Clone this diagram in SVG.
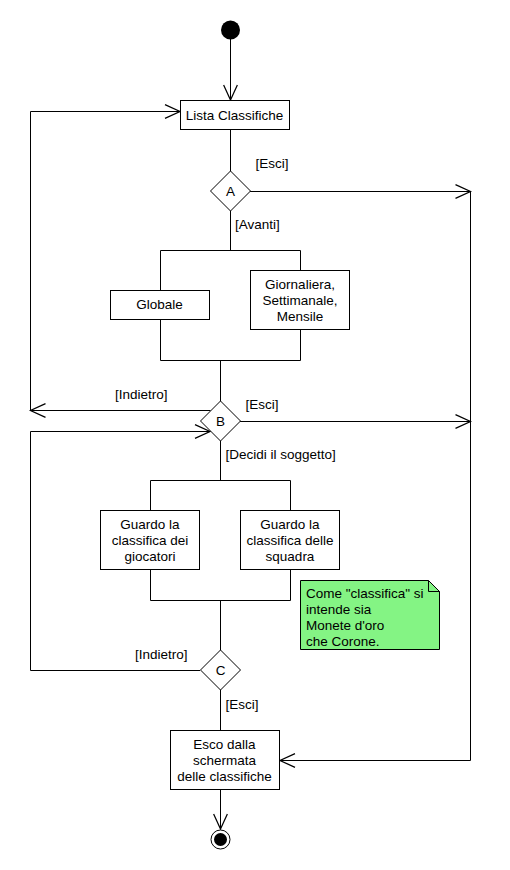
<svg xmlns="http://www.w3.org/2000/svg" width="510" height="870" viewBox="0 0 510 870">
<defs>
<marker id="arr" markerUnits="userSpaceOnUse" markerWidth="20" markerHeight="20" refX="0" refY="0" viewBox="-14 -8 16 16" orient="auto" overflow="visible">
<path d="M-12,-5.5 L0,0 L-12,5.5" fill="none" stroke="#000" stroke-width="1"/>
</marker>
</defs>
<style>
text{font-family:"Liberation Sans",Arial,sans-serif;font-size:13.5px;fill:#000}
.c{text-anchor:middle}
.box{fill:#fff;stroke:#000;stroke-width:1}
.ln{fill:none;stroke:#000;stroke-width:1}
.ar{fill:none;stroke:#000;stroke-width:1;marker-end:url(#arr)}
</style>
<rect width="510" height="870" fill="#fff"/>
<g id="connectors">
<line class="ar" x1="230.5" y1="39" x2="230.5" y2="100"/>
<line class="ln" x1="230.5" y1="129" x2="230.5" y2="171"/>
<line class="ln" x1="230.5" y1="211" x2="230.5" y2="250.5"/>
<polyline class="ln" points="160.5,290 160.5,250.5 300.5,250.5 300.5,270"/>
<polyline class="ln" points="160.5,319 160.5,360.5 300.5,360.5 300.5,329"/>
<line class="ln" x1="220.5" y1="360.5" x2="220.5" y2="401"/>
<line class="ar" x1="210.5" y1="410.5" x2="30.5" y2="410.5"/>
<polyline class="ar" points="30.5,410.5 30.5,111.5 180,111.5"/>
<line class="ar" x1="250" y1="191.5" x2="470.5" y2="191.5"/>
<polyline class="ar" points="470.5,191.5 470.5,760.5 280,760.5"/>
<line class="ar" x1="240" y1="421.5" x2="470.5" y2="421.5"/>
<line class="ln" x1="220.5" y1="441" x2="220.5" y2="480.5"/>
<polyline class="ln" points="150.5,510 150.5,480.5 290.5,480.5 290.5,510"/>
<polyline class="ln" points="150.5,569 150.5,600.5 290.5,600.5 290.5,569"/>
<line class="ln" x1="220.5" y1="600.5" x2="220.5" y2="650"/>
<polyline class="ar" points="200,670.5 30.5,670.5 30.5,431.5 210,431.5"/>
<line class="ln" x1="220.5" y1="690" x2="220.5" y2="730"/>
<line class="ar" x1="220.5" y1="789" x2="220.5" y2="829"/>
<text x="255.5" y="168">[Esci]</text>
<text x="235" y="229">[Avanti]</text>
<text x="115" y="398.5">[Indietro]</text>
<text x="245.5" y="408.5">[Esci]</text>
<text x="225.5" y="458.5">[Decidi il soggetto]</text>
<text x="135" y="658.5">[Indietro]</text>
<text x="225.5" y="708.5">[Esci]</text>
</g>
<g id="start"><circle cx="230.5" cy="30" r="9.5" fill="#000"/></g>
<g id="lista"><rect class="box" x="180.5" y="100.5" width="109" height="29"/><text class="c" x="234.5" y="119.5">Lista Classifiche</text></g>
<g id="A"><polygon class="box" points="230.5,171 250.5,191 230.5,211 210.5,191"/><text class="c" x="230.5" y="196">A</text></g>
<g id="globale"><rect class="box" x="110.5" y="290.5" width="99" height="29"/><text class="c" x="159.5" y="308.5">Globale</text></g>
<g id="giornaliera"><rect class="box" x="250.5" y="270.5" width="99" height="59"/><text class="c" x="300" y="288.5">Giornaliera,</text><text class="c" x="300" y="304.5">Settimanale,</text><text class="c" x="300" y="320.5">Mensile</text></g>
<g id="B"><polygon class="box" points="220.5,401 240.5,421 220.5,441 200.5,421"/><text class="c" x="220.5" y="426">B</text></g>
<g id="giocatori"><rect class="box" x="100.5" y="510.5" width="99" height="59"/><text class="c" x="150" y="528.5">Guardo la</text><text class="c" x="150" y="544.5">classifica dei</text><text class="c" x="150" y="560.5">giocatori</text></g>
<g id="squadra"><rect class="box" x="240.5" y="510.5" width="99" height="59"/><text class="c" x="290" y="528.5">Guardo la</text><text class="c" x="290" y="544.5">classifica delle</text><text class="c" x="290" y="560.5">squadra</text></g>
<g id="note"><path d="M300.5,580.5 L428.5,580.5 L439.5,591.5 L439.5,649.5 L300.5,649.5 Z" fill="#84f484" stroke="#000" stroke-width="1"/><path d="M428.5,580.5 L428.5,591.5 L439.5,591.5" fill="none" stroke="#000" stroke-width="1"/><text x="306" y="598">Come "classifica" si</text><text x="306" y="614">intende sia</text><text x="306" y="630">Monete d'oro</text><text x="306" y="646">che Corone.</text></g>
<g id="C"><polygon class="box" points="220.5,650 240.5,670 220.5,690 200.5,670"/><text class="c" x="220.5" y="675">C</text></g>
<g id="esco"><rect class="box" x="170.5" y="730.5" width="109" height="59"/><text class="c" x="224.5" y="748.5">Esco dalla</text><text class="c" x="224.5" y="764.5">schermata</text><text class="c" x="224.5" y="780.5">delle classifiche</text></g>
<g id="end"><circle cx="220.5" cy="839.5" r="9.5" fill="#fff" stroke="#000" stroke-width="1"/><circle cx="220.5" cy="839.5" r="6.5" fill="#000"/></g>
</svg>
